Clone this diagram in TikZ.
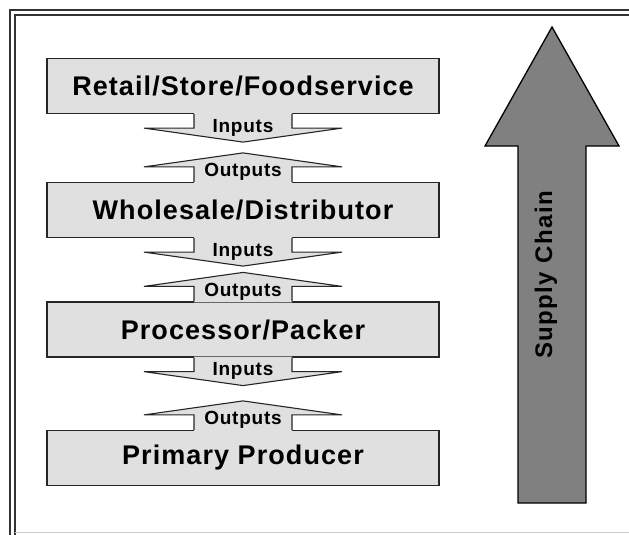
\documentclass[tikz,border=0pt]{standalone}
\usepackage{fontspec}
\setmainfont{Liberation Sans}
\newfontfamily\spacedfont[LetterSpace=4]{Liberation Sans}
\newfontfamily\widefont[LetterSpace=6]{Liberation Sans}
\usetikzlibrary{positioning, calc}
\definecolor{boxgray}{HTML}{E0E0E0}
\definecolor{chaingray}{HTML}{808080}
\tikzset{
  stage/.style={draw=black!85, line width=1.2pt, fill=boxgray, minimum width=392pt,
    minimum height=55pt, inner sep=0pt, font=\spacedfont\bfseries\fontsize{27}{30}\selectfont},
  flowtext/.style={font=\spacedfont\bfseries\fontsize{19}{21}\selectfont, inner sep=0pt, anchor=base},
  flowline/.style={draw=black!85, line width=1.1pt, line join=miter},
}

\begin{document}
\begin{tikzpicture}[x=1pt, y=-1pt]
        \useasboundingbox (0,0) rectangle (629,535);
        % frame
        \draw[line width=1.3pt, black!80] (10,535) -- (10,10) -- (629,10);
        \draw[line width=1.3pt, black!80] (15,535) -- (15,15) -- (629,15);
        \draw[line width=0.8pt, black!20] (15,532) -- (629,532);
        % nodes
        \node[stage] (retail)     at (243, 86)  {Retail/Store/Foodservice};
        \node[stage] (wholesale)  at (243, 210) {Wholesale/Distributor};
        \node[stage] (processor)  at (243, 329.5) {Processor/Packer};
        \node[stage] (primary)    at (243, 458) {Primary Producer};
        % inputs and outputs
        \foreach \up/\down in {retail/wholesale, wholesale/processor, processor/primary} {
          \fill[boxgray] ($(\up.south)+(-49,-1)$) -- ++(0,15) -- ++(-50,0) -- ++(99,14)
            -- ++(99,-14) -- ++(-50,0) -- ++(0,-15) -- cycle;
          \draw[flowline] ($(\up.south)+(-49,0)$) -- ++(0,14) -- ++(-50,0) -- ++(99,14)
            -- ++(99,-14) -- ++(-50,0) -- ++(0,-14);
          \fill[boxgray] ($(\down.north)+(-49,1)$) -- ++(0,-16) -- ++(-50,0) -- ++(99,-14)
            -- ++(99,14) -- ++(-50,0) -- ++(0,16) -- cycle;
          \draw[flowline] ($(\down.north)+(-49,0)$) -- ++(0,-15) -- ++(-50,0) -- ++(99,-14)
            -- ++(99,14) -- ++(-50,0) -- ++(0,15);
          \node[flowtext] (in-\up)    at ($(\up.south)+(0,18)$)     {Inputs};
          \node[flowtext] (out-\down) at ($(\down.north)+(0,-5)$) {Outputs};
        }
        % supply chain arrow
        \filldraw[fill=chaingray, draw=black, line width=1.3pt, line join=miter]
          (518,503) -- (518,146) -- (485,146) -- (552,27) -- (619,146) -- (586,146)
          -- (586,503) -- cycle;
        \node[rotate=90, inner sep=0pt, font=\widefont\bfseries\fontsize{24}{26}\selectfont]
          (chain) at (546,275) {Supply Chain};
\end{tikzpicture}
\end{document}
